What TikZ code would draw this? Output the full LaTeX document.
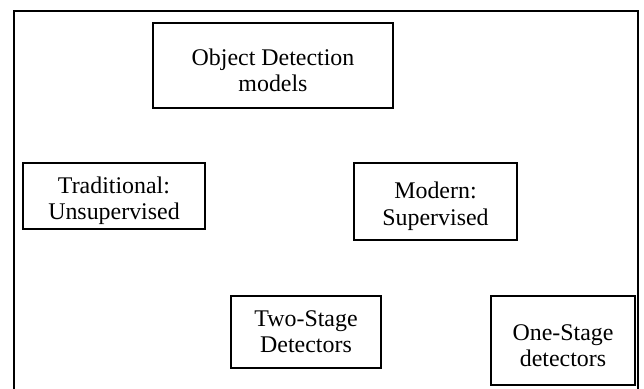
\documentclass[tikz,border=0pt]{standalone}
\usepackage{fontspec}
\setmainfont{Liberation Serif}

\newcommand{\lowstrut}{\rule{0pt}{18.5pt}}

\begin{document}
\begin{tikzpicture}[x=0.025cm, y=-0.025cm,
	blockbox/.style={draw, line width=1.4pt, align=center, inner sep=0pt, font=\fontsize{17}{18.7}\selectfont}]

\useasboundingbox (0,0) rectangle (644,388);

% frame
\coordinate (fbl) at (14,390);
\coordinate (ftr) at (638,11);
\draw[line width=1.4pt] (fbl) |- (ftr) -- (ftr |- fbl);

% boxes
\node[blockbox, minimum width=6cm, minimum height=2.125cm] (detect) at (273,65.5) {\lowstrut Object Detection\\models};

\node[blockbox, minimum width=4.55cm, minimum height=1.65cm] (trad) at (114,196) {\lowstrut Traditional:\\Unsupervised};
\node[blockbox, minimum width=4.075cm, minimum height=1.925cm] (modern) at (435.5,201.5) {\lowstrut Modern:\\Supervised};

\node[blockbox, minimum width=3.75cm, minimum height=1.8cm] (twostage) at (306,332) {Two-Stage\\Detectors};
\node[blockbox, minimum width=3.6cm, minimum height=2.225cm] (onestage) at (563,340.5) {\lowstrut One-Stage\\detectors};

\end{tikzpicture}
\end{document}
